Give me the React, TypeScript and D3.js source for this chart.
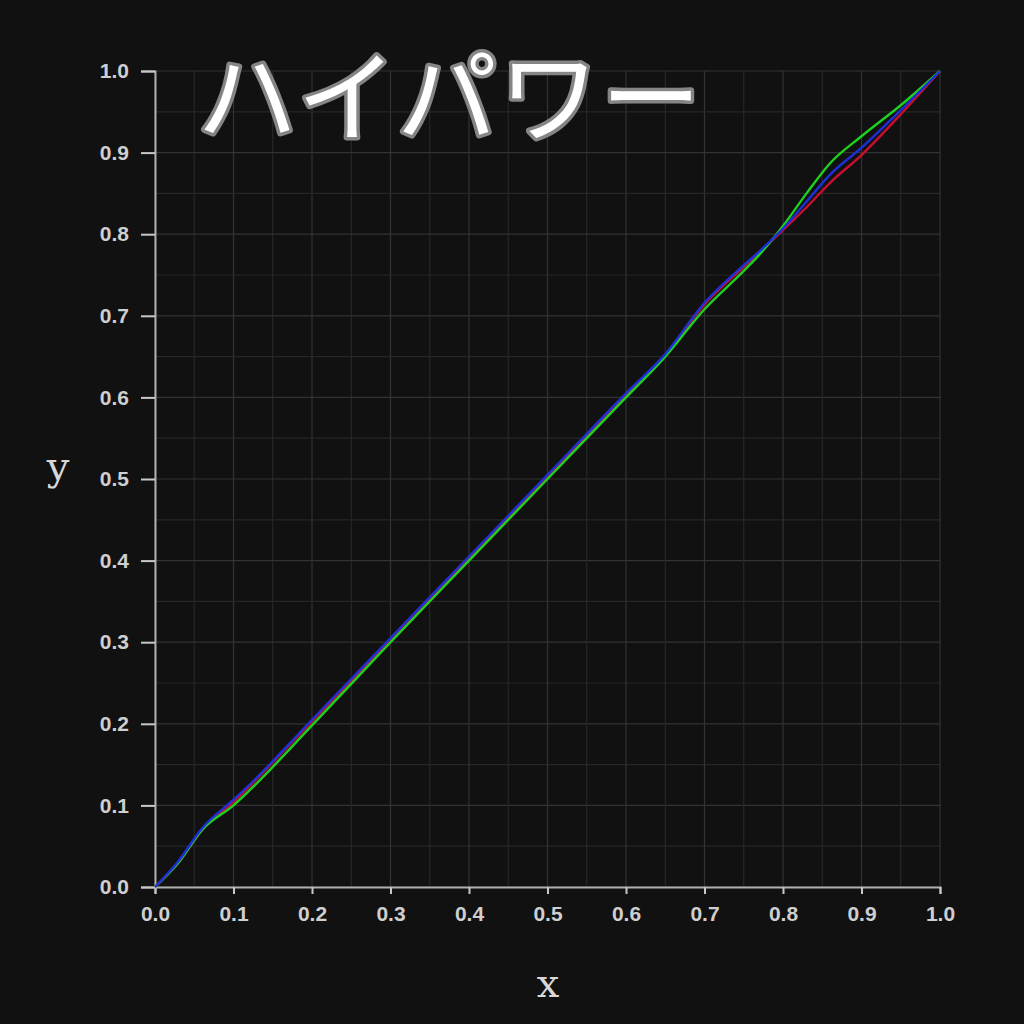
import React, { useEffect, useRef } from "react";
import * as d3 from "d3";

const xs = [0, 0.03, 0.06, 0.1, 0.12, 0.2, 0.3, 0.4, 0.5, 0.6, 0.65, 0.7, 0.75, 0.77, 0.8, 0.83, 0.86, 0.9, 0.95, 1.0];
const redY = [0, 0.03, 0.07, 0.104, 0.123, 0.203, 0.303, 0.403, 0.503, 0.603, 0.652, 0.714, 0.76, 0.778, 0.805, 0.833, 0.863, 0.897, 0.947, 1.0];
const greenY = [0, 0.03, 0.07, 0.1, 0.118, 0.198, 0.3, 0.4, 0.5, 0.6, 0.65, 0.708, 0.755, 0.775, 0.81, 0.85, 0.887, 0.92, 0.958, 1.0];
const blueY = [0, 0.032, 0.072, 0.107, 0.125, 0.205, 0.305, 0.405, 0.505, 0.605, 0.653, 0.716, 0.762, 0.779, 0.807, 0.84, 0.873, 0.906, 0.952, 1.0];

const series = [
  { name: "R", color: "#c8102e", values: redY },
  { name: "G", color: "#1fd11f", values: greenY },
  { name: "B", color: "#1f2fd8", values: blueY },
];

const tickValues = [0, 0.1, 0.2, 0.3, 0.4, 0.5, 0.6, 0.7, 0.8, 0.9, 1.0];
const title = "ハイパワー";

export default function App() {
  const ref = useRef<SVGSVGElement>(null);

  useEffect(() => {
    if (!ref.current) return;
    const root = d3.select(ref.current);
    root.selectAll("*").remove();

    const left = 155, right = 940, top = 71, bottom = 887;
    const x = d3.scaleLinear().domain([0, 1]).range([left, right]);
    const y = d3.scaleLinear().domain([0, 1]).range([bottom, top]);

    root.append("rect").attr("width", 1024).attr("height", 1024).attr("fill", "#111111");

    // grid (minor + major)
    const minor = d3.range(0, 1.0001, 0.05);
    const grid = root.append("g");
    minor.forEach((v, i) => {
      const major = i % 2 === 0;
      const col = major ? "#333333" : "#272727";
      grid.append("line")
        .attr("x1", x(v)).attr("x2", x(v)).attr("y1", top).attr("y2", bottom)
        .attr("stroke", col).attr("stroke-width", 1.2);
      grid.append("line")
        .attr("x1", left).attr("x2", right).attr("y1", y(v)).attr("y2", y(v))
        .attr("stroke", col).attr("stroke-width", 1.2);
    });

    // axes
    const xAxis = root.append("g")
      .attr("transform", `translate(0,${bottom})`)
      .call(d3.axisBottom(x).tickValues(tickValues).tickFormat(d3.format(".1f")).tickSize(7).tickPadding(12));
    const yAxis = root.append("g")
      .attr("transform", `translate(${left},0)`)
      .call(d3.axisLeft(y).tickValues(tickValues).tickFormat(d3.format(".1f")).tickSize(14).tickPadding(12));
    [xAxis, yAxis].forEach((a) => {
      a.select(".domain").attr("stroke", "#b0b0b0").attr("stroke-width", 2);
      a.selectAll(".tick line").attr("stroke", "#c8c8c8").attr("stroke-width", 2);
      a.selectAll("text")
        .attr("fill", "#cfcfcf")
        .style("font-family", "'Liberation Sans', Arial, sans-serif")
        .style("font-weight", "bold")
        .style("font-size", "21px");
    });

    // curves
    const line = d3.line<number>()
      .x((_, i) => x(xs[i]))
      .y((d) => y(d))
      .curve(d3.curveMonotoneX);
    series.forEach((s) => {
      root.append("path")
        .datum(s.values)
        .attr("fill", "none")
        .attr("stroke", s.color)
        .attr("stroke-width", 2.4)
        .attr("stroke-linejoin", "round")
        .attr("d", line);
    });

    // axis labels
    root.append("text")
      .attr("x", 548).attr("y", 997)
      .attr("text-anchor", "middle")
      .attr("fill", "#d8d8d8")
      .style("font-family", "'DejaVu Serif', serif")
      .style("font-size", "40px")
      .text("x");
    root.append("text")
      .attr("x", 58).attr("y", 480)
      .attr("text-anchor", "middle")
      .attr("fill", "#d8d8d8")
      .style("font-family", "'DejaVu Serif', serif")
      .style("font-size", "40px")
      .text("y");

    // title
    root.append("text")
      .attr("x", 450).attr("y", 90)
      .attr("text-anchor", "middle")
      .attr("dominant-baseline", "central")
      .attr("fill", "#ffffff")
      .attr("stroke", "#858585")
      .attr("stroke-width", 7)
      .attr("stroke-linejoin", "round")
      .attr("paint-order", "stroke")
      .style("font-family", "'Noto Sans CJK JP', sans-serif")
      .style("font-weight", "400")
      .style("font-size", "100px")
      .style("letter-spacing", "2px")
      .text(title);
  }, []);

  return (
    <svg ref={ref} width={1024} height={1024} style={{ display: "block", position: "absolute", left: 0, top: 0 }} />
  );
}
